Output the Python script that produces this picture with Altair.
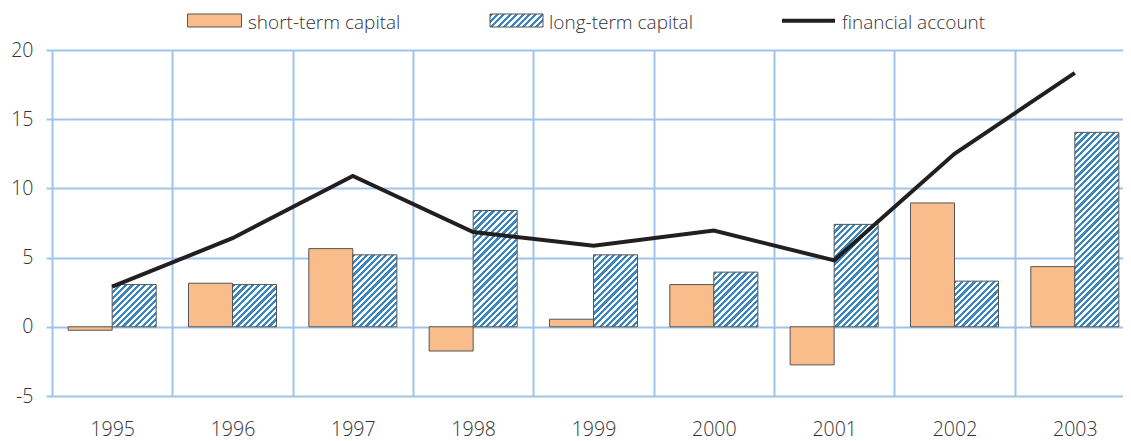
import altair as alt

# ---- data ----
years = ["1995", "1996", "1997", "1998", "1999", "2000", "2001", "2002", "2003"]
short_term = [-0.25, 3.15, 5.65, -1.75, 0.55, 3.05, -2.75, 8.95, 4.35]
long_term = [3.05, 3.05, 5.2, 8.4, 5.2, 3.95, 7.4, 3.3, 14.05]
financial = [2.9, 6.4, 10.9, 6.85, 5.85, 6.95, 4.8, 12.5, 18.35]
series_names = ["short-term capital", "long-term capital", "financial account"]
y_ticks = [-5, 0, 5, 10, 15, 20]

# ---- styling / layout ----
ORANGE = "#f9bd8b"
BLUE = "#3a86c1"
GRID = "#9fc4e7"
TEXT = "#333333"
FONT = "Open Sans"
PLOT_W = 1071
X_RANGE = 1083
PLOT_H = 346
Y_MIN, Y_MAX = -5, 20
OFFSET_PAD = 0.367          # outer padding of the pair of bars within each year
PX_PER_UNIT = PLOT_H / (Y_MAX - Y_MIN)
BAR_W = X_RANGE / len(years) / (2 + 2 * OFFSET_PAD)


def hatch(w, h, period=6.4, c1=BLUE, c2="#ffffff"):
    """Diagonal '/' stripes as a linear gradient in the bar's bounding box."""
    s = w + h
    l2 = w * w + h * h
    stops = []
    k = 0
    while k * period / s <= 1:
        o0 = min(k * period / s, 1)
        o1 = min((k + 0.5) * period / s, 1)
        o2 = min((k + 1) * period / s, 1)
        stops += [
            {"offset": round(o0, 5), "color": c1},
            {"offset": round(o1, 5), "color": c1},
            {"offset": round(o1, 5), "color": c2},
            {"offset": round(o2, 5), "color": c2},
        ]
        k += 1
    return {"gradient": "linear", "x1": 0, "y1": 0,
            "x2": w * s / l2, "y2": h * s / l2, "stops": stops}


records = []
for yr, s_val, l_val in zip(years, short_term, long_term):
    records.append({"year": yr, "series": series_names[0], "value": s_val, "fill": ORANGE})
    records.append({"year": yr, "series": series_names[1], "value": l_val,
                    "fill": hatch(BAR_W, abs(l_val) * PX_PER_UNIT)})

line_records = [{"year": yr, "value": v} for yr, v in zip(years, financial)]

x_scale = alt.Scale(range=[0, X_RANGE], paddingInner=0, paddingOuter=0)
xoff_scale = alt.Scale(paddingInner=0, paddingOuter=OFFSET_PAD)
y_scale = alt.Scale(domain=[Y_MIN, Y_MAX], nice=False, zero=False)

x_axis = alt.Axis(title=None, grid=True, gridColor=GRID, gridWidth=2, tickBand="extent",
                  ticks=False, domain=False, labelAngle=0, labelPadding=24,
                  labelFontSize=19.5, labelFont=FONT, labelColor=TEXT, labelFontWeight=300)
y_axis = alt.Axis(title=None, values=y_ticks, grid=True, gridColor=GRID, gridWidth=2,
                  ticks=True, tickColor=GRID, tickWidth=2, tickSize=6, domain=False,
                  labelPadding=13, labelFontSize=19.5, labelFont=FONT, labelColor=TEXT,
                  labelFontWeight=300, labelExpr="'' + datum.value")

bars = alt.Chart(alt.Data(values=records)).mark_bar(stroke="#555555", strokeWidth=1).encode(
    x=alt.X("year:O", scale=x_scale, axis=x_axis),
    xOffset=alt.XOffset("series:N", sort=series_names[:2], scale=xoff_scale),
    y=alt.Y("value:Q", scale=y_scale, axis=y_axis),
    fill=alt.Fill("fill:N", scale=None),
)

line = alt.Chart(alt.Data(values=line_records)).mark_line(
    color="#231f20", strokeWidth=4
).encode(
    x=alt.X("year:O"),
    y=alt.Y("value:Q"),
)

# ---- manual legend ----
LEG_Y = -21.5
txt_kw = dict(align="left", baseline="alphabetic", fontSize=19, font=FONT, color=TEXT,
              fontWeight=300)

sw1 = alt.Chart(alt.Data(values=[{"label": series_names[0]}])).mark_rect(
    fill=ORANGE, stroke="#555555", strokeWidth=1
).encode(x=alt.value(135.5), x2=alt.value(189.5), y=alt.value(-36), y2=alt.value(-23))
t1 = alt.Chart(alt.Data(values=[{"label": series_names[0]}])).mark_text(**txt_kw).encode(
    x=alt.value(196), y=alt.value(LEG_Y), text="label:N")

sw2 = alt.Chart(alt.Data(values=[{"label": series_names[1]}])).mark_rect(
    fill=hatch(53, 13), stroke="#555555", strokeWidth=1
).encode(x=alt.value(438), x2=alt.value(491), y=alt.value(-36), y2=alt.value(-23))
t2 = alt.Chart(alt.Data(values=[{"label": series_names[1]}])).mark_text(**txt_kw).encode(
    x=alt.value(497), y=alt.value(LEG_Y), text="label:N")

ln3 = alt.Chart(alt.Data(values=[{"label": series_names[2]}])).mark_rule(
    color="#231f20", strokeWidth=4
).encode(x=alt.value(730), x2=alt.value(783), y=alt.value(-29.3))
t3 = alt.Chart(alt.Data(values=[{"label": series_names[2]}])).mark_text(**txt_kw).encode(
    x=alt.value(790), y=alt.value(LEG_Y), text="label:N")

chart = alt.layer(bars, line, sw1, t1, sw2, t2, ln3, t3).properties(
    width=PLOT_W,
    height=PLOT_H,
    autosize=alt.AutoSizeParams(type="none"),
    padding={"left": 44, "top": 42, "right": 0, "bottom": 52},
).configure_view(stroke=None).configure(font=FONT)

chart.save("out.html", embed_options={"renderer": "svg", "actions": False})
